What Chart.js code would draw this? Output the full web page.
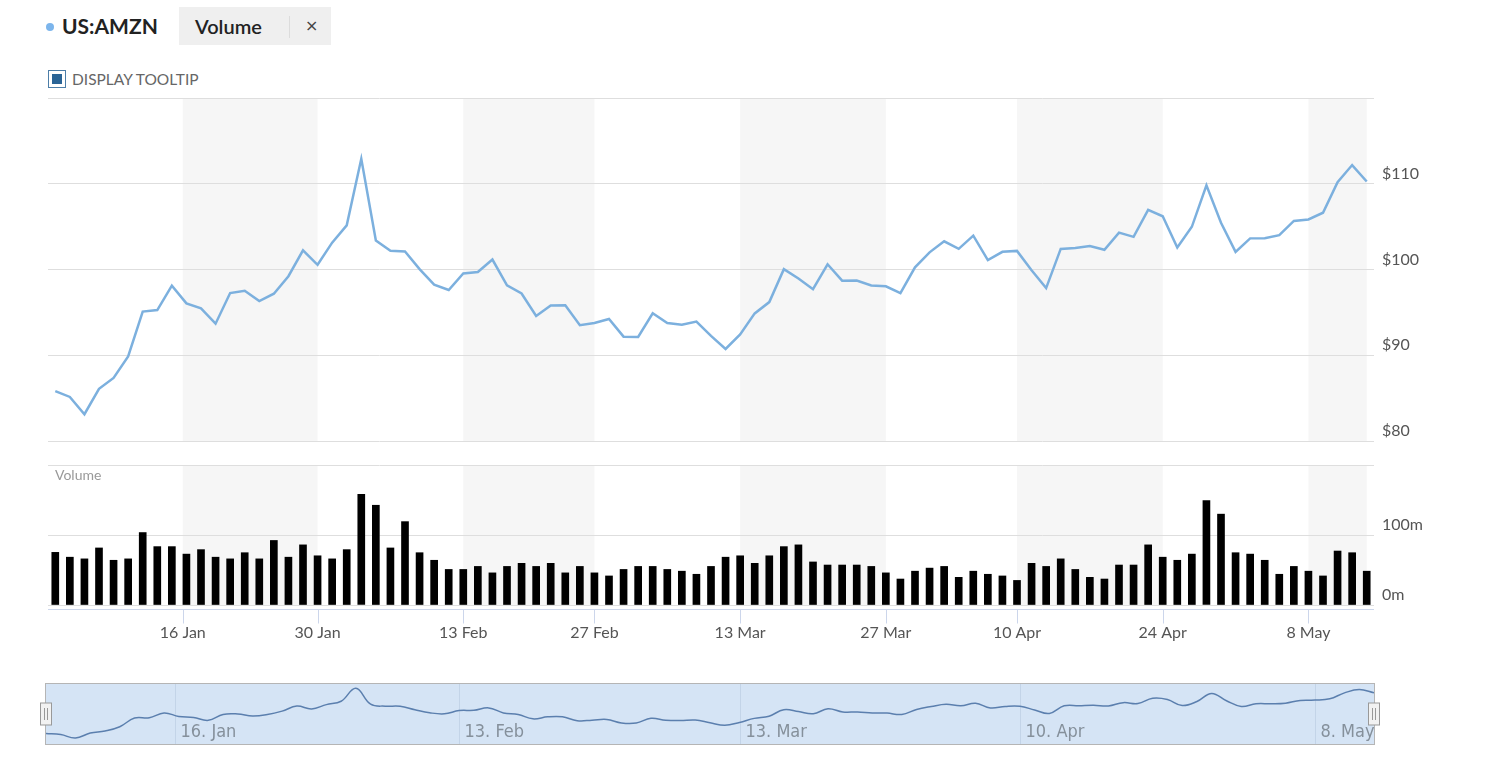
<!DOCTYPE html>
<html>
<head>
<meta charset="utf-8">
<title>US:AMZN</title>
<script src="https://cdn.jsdelivr.net/npm/chart.js@4.4.1/dist/chart.umd.min.js"></script>
<style>
  body { margin: 0; background: #fff; width: 1497px; height: 784px; overflow: hidden; position: relative; font-family: Lato, "Open Sans", sans-serif; }
  canvas { position: absolute; left: 0; }
  .abs { position: absolute; white-space: nowrap; }
</style>
</head>
<body>
<div class="abs" style="left:46px;top:23px;width:8px;height:8px;border-radius:50%;background:#7cb5ec"></div>
<div class="abs" style="left:62px;top:12px;font:bold 21px/28px Lato;color:#222">US:AMZN</div>
<div class="abs" style="left:179px;top:7px;width:152px;height:38px;background:#efefef"></div>
<div class="abs" style="left:195px;top:12px;font:600 20px/28px Lato;color:#222">Volume</div>
<div class="abs" style="left:289px;top:16px;width:1px;height:22px;background:#dcdcdc"></div>
<div class="abs" style="left:305px;top:14px;font:16px/24px 'DejaVu Sans';color:#444">×</div>
<div class="abs" style="left:48px;top:70px;width:18px;height:18px;box-sizing:border-box;border:1.5px solid #4d7ea8"></div>
<div class="abs" style="left:52px;top:74px;width:10px;height:10px;background:#2a6496"></div>
<div class="abs" style="left:72px;top:69px;font:15.5px/20px Lato;color:#666">DISPLAY TOOLTIP</div>

<canvas id="priceChart" width="1497" height="360" style="top:90px"></canvas>
<canvas id="volumeChart" width="1497" height="190" style="top:455px"></canvas>
<canvas id="navChart" width="1497" height="74" style="top:676px"></canvas>
<div class="abs" style="left:55px;top:466px;font:14px/18px Lato;color:#999">Volume</div>

<script>
// Trading days shown
const dates = [
    '2023-01-03', '2023-01-04', '2023-01-05', '2023-01-06', '2023-01-09', '2023-01-10', '2023-01-11', '2023-01-12', '2023-01-13', '2023-01-17',
    '2023-01-18', '2023-01-19', '2023-01-20', '2023-01-23', '2023-01-24', '2023-01-25', '2023-01-26', '2023-01-27', '2023-01-30', '2023-01-31',
    '2023-02-01', '2023-02-02', '2023-02-03', '2023-02-06', '2023-02-07', '2023-02-08', '2023-02-09', '2023-02-10', '2023-02-13', '2023-02-14',
    '2023-02-15', '2023-02-16', '2023-02-17', '2023-02-21', '2023-02-22', '2023-02-23', '2023-02-24', '2023-02-27', '2023-02-28',
    '2023-03-01', '2023-03-02', '2023-03-03', '2023-03-06', '2023-03-07', '2023-03-08', '2023-03-09', '2023-03-10', '2023-03-13', '2023-03-14',
    '2023-03-15', '2023-03-16', '2023-03-17', '2023-03-20', '2023-03-21', '2023-03-22', '2023-03-23', '2023-03-24', '2023-03-27', '2023-03-28',
    '2023-03-29', '2023-03-30', '2023-03-31',
    '2023-04-03', '2023-04-04', '2023-04-05', '2023-04-06', '2023-04-10', '2023-04-11', '2023-04-12', '2023-04-13', '2023-04-14', '2023-04-17',
    '2023-04-18', '2023-04-19', '2023-04-20', '2023-04-21', '2023-04-24', '2023-04-25', '2023-04-26', '2023-04-27', '2023-04-28',
    '2023-05-01', '2023-05-02', '2023-05-03', '2023-05-04', '2023-05-05', '2023-05-08', '2023-05-09', '2023-05-10', '2023-05-11', '2023-05-12'
];

// Closing price, USD
const prices = [
    85.82, 85.14, 83.12, 86.08, 87.36, 89.87, 95.09, 95.27, 98.12, 96.05,
    95.46, 93.68, 97.25, 97.52, 96.32, 97.18, 99.22, 102.24, 100.55, 103.13,
    105.15, 112.91, 103.39, 102.18, 102.11, 100.05, 98.24, 97.61, 99.54, 99.70,
    101.16, 98.15, 97.20, 94.58, 95.79, 95.82, 93.50, 93.76, 94.23,
    92.17, 92.13, 94.90, 93.75, 93.55, 93.92, 92.25, 90.73, 92.43, 94.88,
    96.20, 100.04, 98.95, 97.71, 100.61, 98.70, 98.71, 98.13, 98.04, 97.24,
    100.25, 102.00, 103.29,
    102.41, 103.95, 101.10, 102.06, 102.17, 99.92, 97.83, 102.40, 102.51, 102.74,
    102.30, 104.30, 103.81, 106.96, 106.21, 102.57, 104.98, 109.82, 105.45,
    102.05, 103.63, 103.65, 104.00, 105.66, 105.83, 106.62, 110.19, 112.18, 110.26
];

// Volume, millions of shares
const volumes = [
    75.2, 68.3, 65.9, 81.5, 63.9, 65.9, 103.5, 83.4, 83.4, 72.7,
    79.1, 68.3, 65.9, 74.7, 65.9, 92.2, 68.3, 85.9, 70.3, 65.9,
    79.1, 158.1, 142.5, 81.5, 119.1, 74.7, 63.9, 50.8, 50.8, 55.1,
    45.9, 55.1, 59.5, 55.1, 59.5, 45.9, 55.1, 45.9, 41.5,
    50.8, 55.1, 55.1, 50.8, 48.3, 43.9, 55.1, 68.3, 70.3, 59.5,
    70.3, 83.4, 85.9, 61.5, 57.1, 57.1, 57.1, 55.1, 45.9, 37.1,
    48.3, 52.7, 55.1,
    39.5, 48.3, 43.9, 41.5, 35.1, 59.5, 55.1, 65.9, 50.8, 39.5,
    37.1, 57.1, 57.1, 85.9, 68.3, 63.9, 72.7, 149.3, 129.8,
    74.7, 72.7, 63.9, 43.9, 55.1, 48.3, 41.5, 77.1, 74.7, 48.3
];

const tickDates = ['2023-01-16', '2023-01-30', '2023-02-13', '2023-02-27', '2023-03-13', '2023-03-27', '2023-04-10', '2023-04-24', '2023-05-08'];
const tickLabels = ['16 Jan', '30 Jan', '13 Feb', '27 Feb', '13 Mar', '27 Mar', '10 Apr', '24 Apr', '8 May'];
const navDates = ['2023-01-16', '2023-02-13', '2023-03-13', '2023-04-10', '2023-05-08'];
const navLabels = ['16. Jan', '13. Feb', '13. Mar', '10. Apr', '8. May'];
const priceTicks = [80, 90, 100, 110, 120];
const volumeTicks = [0, 100, 200];

// ordinal position of a date (holidays fall between their neighbours)
function dateIndex(d) {
    const t = Date.parse(d);
    for (let i = 0; i < dates.length - 1; i++) {
        const a = Date.parse(dates[i]), b = Date.parse(dates[i + 1]);
        if (t === a) return i;
        if (t > a && t < b) return i + (t - a) / (b - a);
    }
    return dates.length - 1;
}
const tickIdx = tickDates.map(dateIndex);
const navIdx = navDates.map(dateIndex);

const labelFont = { family: 'Lato', size: 16 };
const gridColor = '#dedede';

// alternate light bands between the date ticks
const bandsPlugin = {
    id: 'bands',
    beforeDraw(chart) {
        const { ctx, chartArea, scales } = chart;
        ctx.save();
        ctx.fillStyle = '#f6f6f6';
        for (let i = 0; i < tickIdx.length; i += 2) {
            const x0 = scales.x.getPixelForValue(tickIdx[i]);
            const end = i + 1 < tickIdx.length ? tickIdx[i + 1] : dates.length - 1;
            const x1 = scales.x.getPixelForValue(end);
            ctx.fillRect(x0, chartArea.top, x1 - x0, chartArea.bottom - chartArea.top);
        }
        ctx.restore();
    }
};

// x axis line sits a few px under the bars, tick marks hang from it
const xLine = {
    id: 'xLine',
    afterDraw(chart) {
        const { ctx, chartArea, scales } = chart;
        const y = chartArea.bottom + 4.5;
        ctx.save();
        ctx.strokeStyle = '#ccd6eb';
        ctx.lineWidth = 1;
        ctx.beginPath();
        ctx.moveTo(chartArea.left, y);
        ctx.lineTo(chartArea.right, y);
        tickIdx.forEach(v => {
            const x = Math.round(scales.x.getPixelForValue(v)) + 0.5;
            ctx.moveTo(x, y);
            ctx.lineTo(x, y + 14);
        });
        ctx.stroke();
        ctx.restore();
    }
};

function yAxis(min, max, ticks, fmt) {
    return {
        position: 'right',
        min: min,
        max: max,
        afterBuildTicks: (axis) => { axis.ticks = ticks.map(v => ({ value: v })); },
        afterFit: (axis) => { axis.width = 123; axis.paddingTop = 0; axis.paddingBottom = 0; },
        border: { display: false },
        grid: { color: gridColor, drawTicks: false },
        ticks: {
            padding: 8,
            labelOffset: -10,
            color: '#555',
            font: labelFont,
            callback: (v) => v === max ? '' : fmt(v)
        }
    };
}

// Price chart
new Chart(document.getElementById('priceChart'), {
    type: 'line',
    data: {
        datasets: [{
            data: prices.map((p, i) => ({ x: i, y: p })),
            borderColor: '#7cb0de',
            borderWidth: 2.5,
            pointRadius: 0,
            tension: 0
        }]
    },
    options: {
        responsive: false,
        animation: false,
        layout: { padding: { left: 48, top: 8, bottom: 9 } },
        plugins: { legend: { display: false }, tooltip: { enabled: false } },
        scales: {
            x: { type: 'linear', min: -0.5, max: dates.length - 0.5, display: false },
            y: yAxis(80, 120, priceTicks, v => '$' + v)
        }
    },
    plugins: [bandsPlugin]
});

// Volume chart
new Chart(document.getElementById('volumeChart'), {
    type: 'bar',
    data: {
        datasets: [{
            data: volumes.map((v, i) => ({ x: i, y: v })),
            backgroundColor: '#000',
            barThickness: 7
        }]
    },
    options: {
        responsive: false,
        animation: false,
        layout: { padding: { left: 48, top: 10 } },
        plugins: { legend: { display: false }, tooltip: { enabled: false } },
        scales: {
            x: {
                type: 'linear',
                offset: false,
                min: -0.5,
                max: dates.length - 0.5,
                afterBuildTicks: (axis) => { axis.ticks = tickIdx.map(v => ({ value: v })); },
                afterFit: (axis) => { axis.height = 40; },
                border: { display: false },
                grid: { offset: false, display: false },
                ticks: {
                    autoSkip: false,
                    maxRotation: 0,
                    padding: 10,
                    color: '#555',
                    font: labelFont,
                    callback: (v, i) => tickLabels[i]
                }
            },
            y: yAxis(0, 200, volumeTicks, v => v + 'm')
        }
    },
    plugins: [bandsPlugin, xLine]
});

// Navigator
const navPlugin = {
    id: 'nav',
    beforeDraw(chart) {
        const { ctx, chartArea, scales } = chart;
        ctx.save();
        ctx.fillStyle = '#d5e4f5';
        ctx.fillRect(chartArea.left, chartArea.top, chartArea.right - chartArea.left, chartArea.bottom - chartArea.top);
        ctx.strokeStyle = '#c3d4e8';
        ctx.lineWidth = 1;
        ctx.font = '18px "Liberation Sans Narrow", "DejaVu Sans Condensed", Roboto, sans-serif';
        ctx.fillStyle = '#85909b';
        ctx.textBaseline = 'middle';
        navIdx.forEach((v, i) => {
            const x = Math.round(scales.x.getPixelForValue(v)) + 0.5;
            ctx.beginPath();
            ctx.moveTo(x, chartArea.top);
            ctx.lineTo(x, chartArea.bottom);
            ctx.stroke();
            ctx.fillText(navLabels[i], x + 5, chartArea.bottom - 12);
        });
        ctx.restore();
    },
    afterDraw(chart) {
        const { ctx, chartArea } = chart;
        ctx.save();
        ctx.strokeStyle = '#b5b5b5';
        ctx.lineWidth = 1;
        ctx.strokeRect(chartArea.left - 0.5, chartArea.top - 0.5, chartArea.right - chartArea.left + 1, chartArea.bottom - chartArea.top + 1);
        const midY = (chartArea.top + chartArea.bottom) / 2;
        [chartArea.left, chartArea.right].forEach(x => {
            ctx.fillStyle = '#f2f2f2';
            ctx.strokeStyle = '#999';
            ctx.fillRect(x - 5.5, midY - 11, 11, 22);
            ctx.strokeRect(x - 5.5, midY - 11, 11, 22);
            ctx.beginPath();
            ctx.moveTo(x - 1.5, midY - 6); ctx.lineTo(x - 1.5, midY + 6);
            ctx.moveTo(x + 1.5, midY - 6); ctx.lineTo(x + 1.5, midY + 6);
            ctx.stroke();
        });
        ctx.restore();
    }
};

new Chart(document.getElementById('navChart'), {
    type: 'line',
    data: {
        datasets: [{
            data: prices.map((p, i) => ({ x: i, y: p })),
            borderColor: '#5b7fae',
            borderWidth: 1.5,
            pointRadius: 0,
            tension: 0.4
        }]
    },
    options: {
        responsive: false,
        animation: false,
        layout: { padding: { left: 46, right: 123, top: 8, bottom: 6 } },
        plugins: { legend: { display: false }, tooltip: { enabled: false } },
        scales: {
            x: { type: 'linear', min: 0, max: dates.length - 1, display: false },
            y: { min: 79.5, max: 115.5, display: false }
        }
    },
    plugins: [navPlugin]
});
</script>
</body>
</html>
